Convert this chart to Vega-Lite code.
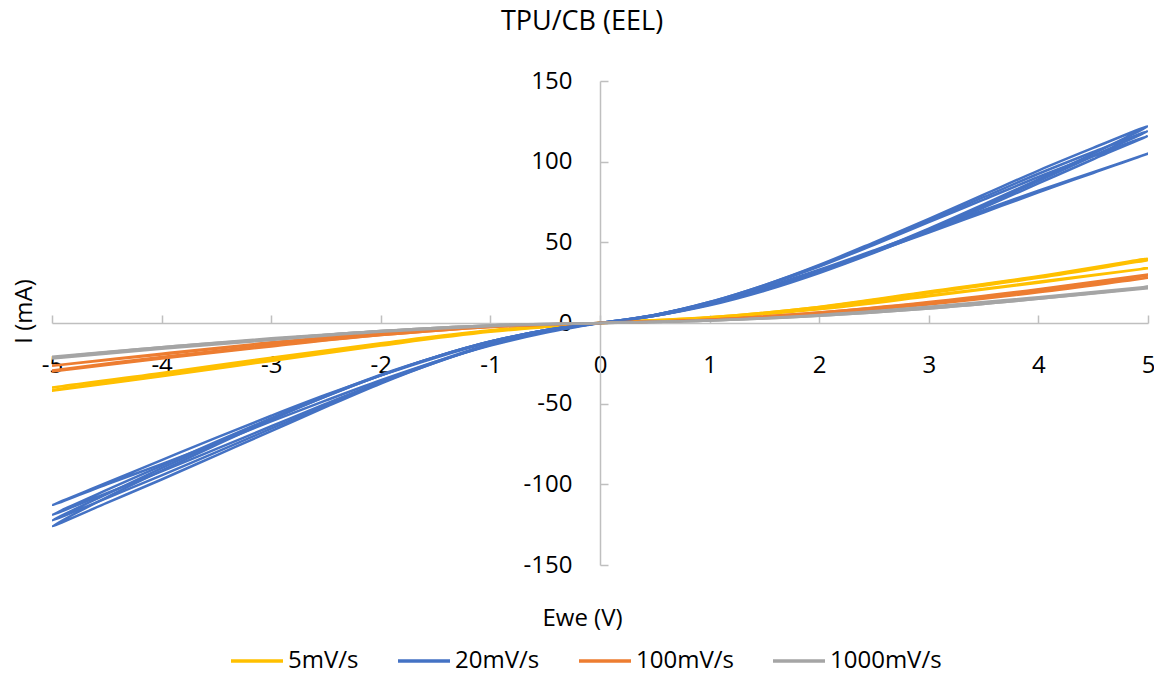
{
  "$schema": "https://vega.github.io/schema/vega-lite/v6.json",
  "autosize": {"type": "none"},
  "width": 1096,
  "height": 484,
  "padding": {"left": 52, "top": 81, "right": 6, "bottom": 109},
  "background": "white",
  "config": {"view": {"stroke": null}, "font": "Open Sans"},
  "title": {"text": "TPU/CB (EEL)", "font": "Open Sans", "fontSize": 27, "fontWeight": "normal", "color": "#000000", "anchor": "middle", "baseline": "alphabetic", "offset": 12, "dx": -18},
  "data": {"values": [
    {"s":"5mV/s","c":1,"x":0,"y":0},{"s":"5mV/s","c":1,"x":1,"y":3},{"s":"5mV/s","c":1,"x":2,"y":9},{"s":"5mV/s","c":1,"x":3,"y":17},{"s":"5mV/s","c":1,"x":4,"y":25.5},{"s":"5mV/s","c":1,"x":5,"y":34},
    {"s":"5mV/s","c":1,"x":4,"y":25},{"s":"5mV/s","c":1,"x":3,"y":16.5},{"s":"5mV/s","c":1,"x":2,"y":8.5},{"s":"5mV/s","c":1,"x":1,"y":3},{"s":"5mV/s","c":1,"x":0,"y":0},
    {"s":"5mV/s","c":1,"x":-1,"y":-4.5},{"s":"5mV/s","c":1,"x":-2,"y":-12.5},{"s":"5mV/s","c":1,"x":-3,"y":-21.5},{"s":"5mV/s","c":1,"x":-4,"y":-31},{"s":"5mV/s","c":1,"x":-5,"y":-40},
    {"s":"5mV/s","c":1,"x":-4,"y":-31.5},{"s":"5mV/s","c":1,"x":-3,"y":-22},{"s":"5mV/s","c":1,"x":-2,"y":-13},{"s":"5mV/s","c":1,"x":-1,"y":-5},{"s":"5mV/s","c":1,"x":0,"y":0},

    {"s":"5mV/s","c":2,"x":0,"y":0},{"s":"5mV/s","c":2,"x":1,"y":3.5},{"s":"5mV/s","c":2,"x":2,"y":10},{"s":"5mV/s","c":2,"x":3,"y":19},{"s":"5mV/s","c":2,"x":4,"y":28.5},{"s":"5mV/s","c":2,"x":5,"y":39},
    {"s":"5mV/s","c":2,"x":4,"y":28},{"s":"5mV/s","c":2,"x":3,"y":18.5},{"s":"5mV/s","c":2,"x":2,"y":9.5},{"s":"5mV/s","c":2,"x":1,"y":3.5},{"s":"5mV/s","c":2,"x":0,"y":0},
    {"s":"5mV/s","c":2,"x":-1,"y":-5},{"s":"5mV/s","c":2,"x":-2,"y":-13},{"s":"5mV/s","c":2,"x":-3,"y":-22.5},{"s":"5mV/s","c":2,"x":-4,"y":-32},{"s":"5mV/s","c":2,"x":-5,"y":-41.5},
    {"s":"5mV/s","c":2,"x":-4,"y":-32.5},{"s":"5mV/s","c":2,"x":-3,"y":-23},{"s":"5mV/s","c":2,"x":-2,"y":-13.5},{"s":"5mV/s","c":2,"x":-1,"y":-5},{"s":"5mV/s","c":2,"x":0,"y":0},

    {"s":"5mV/s","c":3,"x":0,"y":0},{"s":"5mV/s","c":3,"x":1,"y":3.5},{"s":"5mV/s","c":3,"x":2,"y":10},{"s":"5mV/s","c":3,"x":3,"y":19.5},{"s":"5mV/s","c":3,"x":4,"y":29},{"s":"5mV/s","c":3,"x":5,"y":40},
    {"s":"5mV/s","c":3,"x":4,"y":28.5},{"s":"5mV/s","c":3,"x":3,"y":19},{"s":"5mV/s","c":3,"x":2,"y":10},{"s":"5mV/s","c":3,"x":1,"y":3.5},{"s":"5mV/s","c":3,"x":0,"y":0},
    {"s":"5mV/s","c":3,"x":-1,"y":-5},{"s":"5mV/s","c":3,"x":-2,"y":-13.5},{"s":"5mV/s","c":3,"x":-3,"y":-23},{"s":"5mV/s","c":3,"x":-4,"y":-32.5},{"s":"5mV/s","c":3,"x":-5,"y":-42},
    {"s":"5mV/s","c":3,"x":-4,"y":-33},{"s":"5mV/s","c":3,"x":-3,"y":-23.5},{"s":"5mV/s","c":3,"x":-2,"y":-14},{"s":"5mV/s","c":3,"x":-1,"y":-5.5},{"s":"5mV/s","c":3,"x":0,"y":0},

    {"s":"20mV/s","c":1,"x":0,"y":0},{"s":"20mV/s","c":1,"x":0.5,"y":4.5},{"s":"20mV/s","c":1,"x":1,"y":12},{"s":"20mV/s","c":1,"x":1.5,"y":21.5},{"s":"20mV/s","c":1,"x":2,"y":32.5},{"s":"20mV/s","c":1,"x":2.5,"y":44},{"s":"20mV/s","c":1,"x":3,"y":56},{"s":"20mV/s","c":1,"x":3.5,"y":68.5},{"s":"20mV/s","c":1,"x":4,"y":81},{"s":"20mV/s","c":1,"x":4.5,"y":93},{"s":"20mV/s","c":1,"x":5,"y":105},
    {"s":"20mV/s","c":1,"x":4.5,"y":93.5},{"s":"20mV/s","c":1,"x":4,"y":82},{"s":"20mV/s","c":1,"x":3.5,"y":70},{"s":"20mV/s","c":1,"x":3,"y":57.5},{"s":"20mV/s","c":1,"x":2.5,"y":45},{"s":"20mV/s","c":1,"x":2,"y":33},{"s":"20mV/s","c":1,"x":1.5,"y":22},{"s":"20mV/s","c":1,"x":1,"y":12.5},{"s":"20mV/s","c":1,"x":0.5,"y":5},{"s":"20mV/s","c":1,"x":0,"y":0},
    {"s":"20mV/s","c":1,"x":-0.5,"y":-4.5},{"s":"20mV/s","c":1,"x":-1,"y":-12},{"s":"20mV/s","c":1,"x":-1.5,"y":-21.5},{"s":"20mV/s","c":1,"x":-2,"y":-32.5},{"s":"20mV/s","c":1,"x":-2.5,"y":-44.5},{"s":"20mV/s","c":1,"x":-3,"y":-57.5},{"s":"20mV/s","c":1,"x":-3.5,"y":-71},{"s":"20mV/s","c":1,"x":-4,"y":-85},{"s":"20mV/s","c":1,"x":-4.5,"y":-99},{"s":"20mV/s","c":1,"x":-5,"y":-113},
    {"s":"20mV/s","c":1,"x":-4.5,"y":-100},{"s":"20mV/s","c":1,"x":-4,"y":-87.5},{"s":"20mV/s","c":1,"x":-3.5,"y":-74.5},{"s":"20mV/s","c":1,"x":-3,"y":-61},{"s":"20mV/s","c":1,"x":-2.5,"y":-48},{"s":"20mV/s","c":1,"x":-2,"y":-35.5},{"s":"20mV/s","c":1,"x":-1.5,"y":-24},{"s":"20mV/s","c":1,"x":-1,"y":-14},{"s":"20mV/s","c":1,"x":-0.5,"y":-6},{"s":"20mV/s","c":1,"x":0,"y":0},

    {"s":"20mV/s","c":2,"x":0,"y":0},{"s":"20mV/s","c":2,"x":0.5,"y":5},{"s":"20mV/s","c":2,"x":1,"y":13},{"s":"20mV/s","c":2,"x":1.5,"y":23.5},{"s":"20mV/s","c":2,"x":2,"y":36},{"s":"20mV/s","c":2,"x":2.5,"y":50},{"s":"20mV/s","c":2,"x":3,"y":64.5},{"s":"20mV/s","c":2,"x":3.5,"y":79.5},{"s":"20mV/s","c":2,"x":4,"y":94.5},{"s":"20mV/s","c":2,"x":4.5,"y":108.5},{"s":"20mV/s","c":2,"x":5,"y":122},
    {"s":"20mV/s","c":2,"x":4.5,"y":105},{"s":"20mV/s","c":2,"x":4,"y":89},{"s":"20mV/s","c":2,"x":3.5,"y":73.5},{"s":"20mV/s","c":2,"x":3,"y":58.5},{"s":"20mV/s","c":2,"x":2.5,"y":44.5},{"s":"20mV/s","c":2,"x":2,"y":31.5},{"s":"20mV/s","c":2,"x":1.5,"y":20.5},{"s":"20mV/s","c":2,"x":1,"y":11.5},{"s":"20mV/s","c":2,"x":0.5,"y":4.5},{"s":"20mV/s","c":2,"x":0,"y":0},
    {"s":"20mV/s","c":2,"x":-0.5,"y":-5},{"s":"20mV/s","c":2,"x":-1,"y":-13.5},{"s":"20mV/s","c":2,"x":-1.5,"y":-24.5},{"s":"20mV/s","c":2,"x":-2,"y":-37.5},{"s":"20mV/s","c":2,"x":-2.5,"y":-52},{"s":"20mV/s","c":2,"x":-3,"y":-67},{"s":"20mV/s","c":2,"x":-3.5,"y":-82},{"s":"20mV/s","c":2,"x":-4,"y":-97},{"s":"20mV/s","c":2,"x":-4.5,"y":-111.5},{"s":"20mV/s","c":2,"x":-5,"y":-126},
    {"s":"20mV/s","c":2,"x":-4.5,"y":-108},{"s":"20mV/s","c":2,"x":-4,"y":-91.5},{"s":"20mV/s","c":2,"x":-3.5,"y":-75.5},{"s":"20mV/s","c":2,"x":-3,"y":-60},{"s":"20mV/s","c":2,"x":-2.5,"y":-45.5},{"s":"20mV/s","c":2,"x":-2,"y":-32.5},{"s":"20mV/s","c":2,"x":-1.5,"y":-21},{"s":"20mV/s","c":2,"x":-1,"y":-11.5},{"s":"20mV/s","c":2,"x":-0.5,"y":-4.5},{"s":"20mV/s","c":2,"x":0,"y":0},

    {"s":"20mV/s","c":3,"x":0,"y":0},{"s":"20mV/s","c":3,"x":0.5,"y":5},{"s":"20mV/s","c":3,"x":1,"y":13},{"s":"20mV/s","c":3,"x":1.5,"y":23.5},{"s":"20mV/s","c":3,"x":2,"y":35.5},{"s":"20mV/s","c":3,"x":2.5,"y":49},{"s":"20mV/s","c":3,"x":3,"y":63.5},{"s":"20mV/s","c":3,"x":3.5,"y":78},{"s":"20mV/s","c":3,"x":4,"y":92.5},{"s":"20mV/s","c":3,"x":4.5,"y":106},{"s":"20mV/s","c":3,"x":5,"y":119},
    {"s":"20mV/s","c":3,"x":4.5,"y":103.5},{"s":"20mV/s","c":3,"x":4,"y":88},{"s":"20mV/s","c":3,"x":3.5,"y":72.5},{"s":"20mV/s","c":3,"x":3,"y":58},{"s":"20mV/s","c":3,"x":2.5,"y":44},{"s":"20mV/s","c":3,"x":2,"y":31.5},{"s":"20mV/s","c":3,"x":1.5,"y":20.5},{"s":"20mV/s","c":3,"x":1,"y":11.5},{"s":"20mV/s","c":3,"x":0.5,"y":4.5},{"s":"20mV/s","c":3,"x":0,"y":0},
    {"s":"20mV/s","c":3,"x":-0.5,"y":-5},{"s":"20mV/s","c":3,"x":-1,"y":-13.5},{"s":"20mV/s","c":3,"x":-1.5,"y":-24.5},{"s":"20mV/s","c":3,"x":-2,"y":-37},{"s":"20mV/s","c":3,"x":-2.5,"y":-51},{"s":"20mV/s","c":3,"x":-3,"y":-65.5},{"s":"20mV/s","c":3,"x":-3.5,"y":-80},{"s":"20mV/s","c":3,"x":-4,"y":-94.5},{"s":"20mV/s","c":3,"x":-4.5,"y":-108.5},{"s":"20mV/s","c":3,"x":-5,"y":-122.5},
    {"s":"20mV/s","c":3,"x":-4.5,"y":-106},{"s":"20mV/s","c":3,"x":-4,"y":-90},{"s":"20mV/s","c":3,"x":-3.5,"y":-74.5},{"s":"20mV/s","c":3,"x":-3,"y":-59.5},{"s":"20mV/s","c":3,"x":-2.5,"y":-45.5},{"s":"20mV/s","c":3,"x":-2,"y":-32.5},{"s":"20mV/s","c":3,"x":-1.5,"y":-21},{"s":"20mV/s","c":3,"x":-1,"y":-11.5},{"s":"20mV/s","c":3,"x":-0.5,"y":-4.5},{"s":"20mV/s","c":3,"x":0,"y":0},

    {"s":"20mV/s","c":4,"x":0,"y":0},{"s":"20mV/s","c":4,"x":0.5,"y":5},{"s":"20mV/s","c":4,"x":1,"y":12.5},{"s":"20mV/s","c":4,"x":1.5,"y":23},{"s":"20mV/s","c":4,"x":2,"y":35},{"s":"20mV/s","c":4,"x":2.5,"y":48.5},{"s":"20mV/s","c":4,"x":3,"y":62.5},{"s":"20mV/s","c":4,"x":3.5,"y":76.5},{"s":"20mV/s","c":4,"x":4,"y":90.5},{"s":"20mV/s","c":4,"x":4.5,"y":103.5},{"s":"20mV/s","c":4,"x":5,"y":116},
    {"s":"20mV/s","c":4,"x":4.5,"y":101.5},{"s":"20mV/s","c":4,"x":4,"y":86.5},{"s":"20mV/s","c":4,"x":3.5,"y":71.5},{"s":"20mV/s","c":4,"x":3,"y":57},{"s":"20mV/s","c":4,"x":2.5,"y":43.5},{"s":"20mV/s","c":4,"x":2,"y":31},{"s":"20mV/s","c":4,"x":1.5,"y":20},{"s":"20mV/s","c":4,"x":1,"y":11},{"s":"20mV/s","c":4,"x":0.5,"y":4.5},{"s":"20mV/s","c":4,"x":0,"y":0},
    {"s":"20mV/s","c":4,"x":-0.5,"y":-5},{"s":"20mV/s","c":4,"x":-1,"y":-13},{"s":"20mV/s","c":4,"x":-1.5,"y":-24},{"s":"20mV/s","c":4,"x":-2,"y":-36.5},{"s":"20mV/s","c":4,"x":-2.5,"y":-50},{"s":"20mV/s","c":4,"x":-3,"y":-64},{"s":"20mV/s","c":4,"x":-3.5,"y":-78},{"s":"20mV/s","c":4,"x":-4,"y":-92},{"s":"20mV/s","c":4,"x":-4.5,"y":-105.5},{"s":"20mV/s","c":4,"x":-5,"y":-119},
    {"s":"20mV/s","c":4,"x":-4.5,"y":-103.5},{"s":"20mV/s","c":4,"x":-4,"y":-88.5},{"s":"20mV/s","c":4,"x":-3.5,"y":-73.5},{"s":"20mV/s","c":4,"x":-3,"y":-59},{"s":"20mV/s","c":4,"x":-2.5,"y":-45},{"s":"20mV/s","c":4,"x":-2,"y":-32},{"s":"20mV/s","c":4,"x":-1.5,"y":-21},{"s":"20mV/s","c":4,"x":-1,"y":-11.5},{"s":"20mV/s","c":4,"x":-0.5,"y":-4.5},{"s":"20mV/s","c":4,"x":0,"y":0},

    {"s":"100mV/s","c":1,"x":0,"y":0},{"s":"100mV/s","c":1,"x":1,"y":2},{"s":"100mV/s","c":1,"x":2,"y":6},{"s":"100mV/s","c":1,"x":3,"y":12},{"s":"100mV/s","c":1,"x":4,"y":19.5},{"s":"100mV/s","c":1,"x":5,"y":28},
    {"s":"100mV/s","c":1,"x":4,"y":19},{"s":"100mV/s","c":1,"x":3,"y":11.5},{"s":"100mV/s","c":1,"x":2,"y":6},{"s":"100mV/s","c":1,"x":1,"y":2},{"s":"100mV/s","c":1,"x":0,"y":0},
    {"s":"100mV/s","c":1,"x":-1,"y":-2},{"s":"100mV/s","c":1,"x":-2,"y":-6.5},{"s":"100mV/s","c":1,"x":-3,"y":-12.5},{"s":"100mV/s","c":1,"x":-4,"y":-19.5},{"s":"100mV/s","c":1,"x":-5,"y":-26.5},
    {"s":"100mV/s","c":1,"x":-4,"y":-19},{"s":"100mV/s","c":1,"x":-3,"y":-12},{"s":"100mV/s","c":1,"x":-2,"y":-6},{"s":"100mV/s","c":1,"x":-1,"y":-2},{"s":"100mV/s","c":1,"x":0,"y":0},

    {"s":"100mV/s","c":2,"x":0,"y":0},{"s":"100mV/s","c":2,"x":1,"y":2},{"s":"100mV/s","c":2,"x":2,"y":6.5},{"s":"100mV/s","c":2,"x":3,"y":12.5},{"s":"100mV/s","c":2,"x":4,"y":20.5},{"s":"100mV/s","c":2,"x":5,"y":29.5},
    {"s":"100mV/s","c":2,"x":4,"y":20},{"s":"100mV/s","c":2,"x":3,"y":12},{"s":"100mV/s","c":2,"x":2,"y":6},{"s":"100mV/s","c":2,"x":1,"y":2},{"s":"100mV/s","c":2,"x":0,"y":0},
    {"s":"100mV/s","c":2,"x":-1,"y":-2.5},{"s":"100mV/s","c":2,"x":-2,"y":-7.5},{"s":"100mV/s","c":2,"x":-3,"y":-14},{"s":"100mV/s","c":2,"x":-4,"y":-21.5},{"s":"100mV/s","c":2,"x":-5,"y":-29.5},
    {"s":"100mV/s","c":2,"x":-4,"y":-21},{"s":"100mV/s","c":2,"x":-3,"y":-13.5},{"s":"100mV/s","c":2,"x":-2,"y":-7},{"s":"100mV/s","c":2,"x":-1,"y":-2.5},{"s":"100mV/s","c":2,"x":0,"y":0},

    {"s":"100mV/s","c":3,"x":0,"y":0},{"s":"100mV/s","c":3,"x":1,"y":2},{"s":"100mV/s","c":3,"x":2,"y":6.5},{"s":"100mV/s","c":3,"x":3,"y":13},{"s":"100mV/s","c":3,"x":4,"y":21},{"s":"100mV/s","c":3,"x":5,"y":30},
    {"s":"100mV/s","c":3,"x":4,"y":20.5},{"s":"100mV/s","c":3,"x":3,"y":12.5},{"s":"100mV/s","c":3,"x":2,"y":6.5},{"s":"100mV/s","c":3,"x":1,"y":2},{"s":"100mV/s","c":3,"x":0,"y":0},
    {"s":"100mV/s","c":3,"x":-1,"y":-2.5},{"s":"100mV/s","c":3,"x":-2,"y":-7.5},{"s":"100mV/s","c":3,"x":-3,"y":-14.5},{"s":"100mV/s","c":3,"x":-4,"y":-22},{"s":"100mV/s","c":3,"x":-5,"y":-30},
    {"s":"100mV/s","c":3,"x":-4,"y":-21.5},{"s":"100mV/s","c":3,"x":-3,"y":-14},{"s":"100mV/s","c":3,"x":-2,"y":-7.5},{"s":"100mV/s","c":3,"x":-1,"y":-2.5},{"s":"100mV/s","c":3,"x":0,"y":0},

    {"s":"1000mV/s","c":1,"x":0,"y":0},{"s":"1000mV/s","c":1,"x":1,"y":1.5},{"s":"1000mV/s","c":1,"x":2,"y":4.5},{"s":"1000mV/s","c":1,"x":3,"y":9},{"s":"1000mV/s","c":1,"x":4,"y":15},{"s":"1000mV/s","c":1,"x":5,"y":21.5},
    {"s":"1000mV/s","c":1,"x":4,"y":15},{"s":"1000mV/s","c":1,"x":3,"y":9},{"s":"1000mV/s","c":1,"x":2,"y":4.5},{"s":"1000mV/s","c":1,"x":1,"y":1.5},{"s":"1000mV/s","c":1,"x":0,"y":0},
    {"s":"1000mV/s","c":1,"x":-1,"y":-1.5},{"s":"1000mV/s","c":1,"x":-2,"y":-5},{"s":"1000mV/s","c":1,"x":-3,"y":-10},{"s":"1000mV/s","c":1,"x":-4,"y":-15},{"s":"1000mV/s","c":1,"x":-5,"y":-21},
    {"s":"1000mV/s","c":1,"x":-4,"y":-15},{"s":"1000mV/s","c":1,"x":-3,"y":-9.5},{"s":"1000mV/s","c":1,"x":-2,"y":-5},{"s":"1000mV/s","c":1,"x":-1,"y":-1.5},{"s":"1000mV/s","c":1,"x":0,"y":0},

    {"s":"1000mV/s","c":2,"x":0,"y":0},{"s":"1000mV/s","c":2,"x":1,"y":1.5},{"s":"1000mV/s","c":2,"x":2,"y":4.5},{"s":"1000mV/s","c":2,"x":3,"y":9.5},{"s":"1000mV/s","c":2,"x":4,"y":15.5},{"s":"1000mV/s","c":2,"x":5,"y":22},
    {"s":"1000mV/s","c":2,"x":4,"y":15},{"s":"1000mV/s","c":2,"x":3,"y":9},{"s":"1000mV/s","c":2,"x":2,"y":4.5},{"s":"1000mV/s","c":2,"x":1,"y":1.5},{"s":"1000mV/s","c":2,"x":0,"y":0},
    {"s":"1000mV/s","c":2,"x":-1,"y":-1.5},{"s":"1000mV/s","c":2,"x":-2,"y":-5},{"s":"1000mV/s","c":2,"x":-3,"y":-10},{"s":"1000mV/s","c":2,"x":-4,"y":-15.5},{"s":"1000mV/s","c":2,"x":-5,"y":-21.5},
    {"s":"1000mV/s","c":2,"x":-4,"y":-15},{"s":"1000mV/s","c":2,"x":-3,"y":-10},{"s":"1000mV/s","c":2,"x":-2,"y":-5},{"s":"1000mV/s","c":2,"x":-1,"y":-1.5},{"s":"1000mV/s","c":2,"x":0,"y":0},

    {"s":"1000mV/s","c":3,"x":0,"y":0},{"s":"1000mV/s","c":3,"x":1,"y":1.5},{"s":"1000mV/s","c":3,"x":2,"y":5},{"s":"1000mV/s","c":3,"x":3,"y":10},{"s":"1000mV/s","c":3,"x":4,"y":16},{"s":"1000mV/s","c":3,"x":5,"y":22.5},
    {"s":"1000mV/s","c":3,"x":4,"y":15.5},{"s":"1000mV/s","c":3,"x":3,"y":9.5},{"s":"1000mV/s","c":3,"x":2,"y":5},{"s":"1000mV/s","c":3,"x":1,"y":1.5},{"s":"1000mV/s","c":3,"x":0,"y":0},
    {"s":"1000mV/s","c":3,"x":-1,"y":-2},{"s":"1000mV/s","c":3,"x":-2,"y":-5.5},{"s":"1000mV/s","c":3,"x":-3,"y":-10.5},{"s":"1000mV/s","c":3,"x":-4,"y":-16},{"s":"1000mV/s","c":3,"x":-5,"y":-22},
    {"s":"1000mV/s","c":3,"x":-4,"y":-15.5},{"s":"1000mV/s","c":3,"x":-3,"y":-10},{"s":"1000mV/s","c":3,"x":-2,"y":-5},{"s":"1000mV/s","c":3,"x":-1,"y":-1.5},{"s":"1000mV/s","c":3,"x":0,"y":0}
  ]},
  "mark": {"type": "line", "strokeWidth": 2.5, "interpolate": "catmull-rom", "clip": true},
  "encoding": {
    "x": {
      "field": "x", "type": "quantitative",
      "scale": {"domain": [-5, 5], "nice": false, "zero": false},
      "axis": {
        "title": "Ewe (V)", "orient": "bottom", "offset": -242,
        "values": [-5, -4, -3, -2, -1, 0, 1, 2, 3, 4, 5],
        "labelExpr": "datum.value < 0 ? '-' + abs(datum.value) : '' + datum.value",
        "grid": false, "domainColor": "#BFBFBF", "domainWidth": 1.5,
        "tickColor": "#BFBFBF", "tickWidth": 1.5, "tickSize": -8,
        "labelFont": "Open Sans", "labelFontSize": 24, "labelColor": "#000000", "labelPadding": 38,
        "labelFlush": false, "labelOverlap": false,
        "titleFont": "Open Sans", "titleFontSize": 24, "titleFontWeight": "normal", "titleColor": "#000000",
        "titleX": 530, "titleY": 295, "titleAlign": "center", "titleBaseline": "middle"
      }
    },
    "y": {
      "field": "y", "type": "quantitative",
      "scale": {"domain": [-150, 150], "nice": false, "zero": false},
      "axis": {
        "title": "I (mA)", "orient": "left", "offset": -548,
        "values": [-150, -100, -50, 0, 50, 100, 150],
        "labelExpr": "datum.value < 0 ? '-' + abs(datum.value) : '' + datum.value",
        "grid": false, "domainColor": "#BFBFBF", "domainWidth": 1.5,
        "tickColor": "#BFBFBF", "tickWidth": 1.5, "tickSize": -8,
        "labelFont": "Open Sans", "labelFontSize": 24, "labelColor": "#000000", "labelPadding": 36,
        "labelFlush": false, "labelOverlap": false,
        "titleFont": "Open Sans", "titleFontSize": 24, "titleFontWeight": "normal", "titleColor": "#000000",
        "titleX": -576, "titleY": 230, "titleAngle": -90, "titleAlign": "center", "titleBaseline": "middle"
      }
    },
    "color": {
      "field": "s", "type": "nominal",
      "scale": {"domain": ["5mV/s", "20mV/s", "100mV/s", "1000mV/s"], "range": ["#FFC000", "#4472C4", "#ED7D31", "#A5A5A5"]},
      "legend": {
        "title": null, "orient": "none", "direction": "horizontal",
        "legendX": 177, "legendY": 565,
        "symbolType": "M-2,0L2,0", "symbolSize": 676, "symbolStrokeWidth": 3.5, "symbolOffset": 13,
        "labelFont": "Open Sans", "labelFontSize": 24, "labelColor": "#000000", "labelOffset": 16,
        "columnPadding": 32, "padding": 0
      }
    },
    "detail": {"field": "c", "type": "nominal"},
    "order": {"value": null}
  }
}
